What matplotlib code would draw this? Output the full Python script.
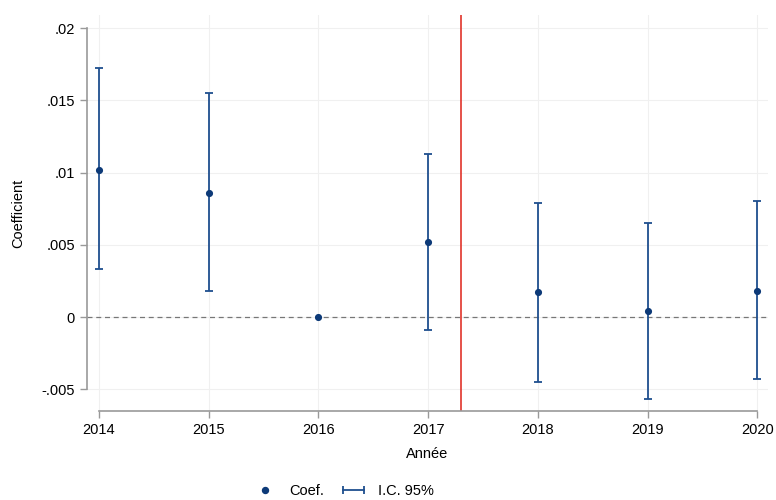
import matplotlib
matplotlib.use("Agg")
import matplotlib.pyplot as plt
from matplotlib.lines import Line2D
from matplotlib.legend_handler import HandlerLine2D

plt.rcParams["font.family"] = ["Liberation Sans", "DejaVu Sans"]

# values
years = [2014, 2015, 2016, 2017, 2018, 2019, 2020]
coef = [0.0102, 0.0086, 0.0, 0.0052, 0.0017, 0.0004, 0.0018]
ci_low = [0.0033, 0.0018, 0.0, -0.0009, -0.0045, -0.0057, -0.0043]
ci_high = [0.0172, 0.0155, 0.0, 0.0113, 0.0079, 0.0065, 0.0080]
treat_line = 2017.3
yticks = [-0.005, 0, 0.005, 0.01, 0.015, 0.02]
ytick_labels = ["-.005", "0", ".005", ".01", ".015", ".02"]

LINE_C = "#1f4f8f"
DOT_C = "#0d3a78"
FS = 10.5

fig = plt.figure(figsize=(7.76, 5), dpi=100)
ax = fig.add_axes([0.112, 0.178, 0.878, 0.792])

ax.set_xlim(2013.89, 2020.1)
ax.set_ylim(-0.0065, 0.0209)

for yv in yticks:
    ax.axhline(yv, color="#f0f0f0", linewidth=0.8, zorder=0)
for xv in years:
    ax.axvline(xv, color="#f0f0f0", linewidth=0.8, zorder=0)

ax.axhline(0, color="#777777", linestyle=(0, (4, 3)), linewidth=0.9, zorder=1)
ax.axvline(treat_line, color="#e0332a", linewidth=1.2, zorder=2)

# CI bars (skip the reference year with zero width)
for x, lo, hi in zip(years, ci_low, ci_high):
    if hi - lo <= 0:
        continue
    ax.errorbar([x], [(lo + hi) / 2], yerr=[[(hi - lo) / 2], [(hi - lo) / 2]],
                fmt="none", ecolor=LINE_C, elinewidth=1.3, capsize=2.9,
                capthick=1.3, zorder=3)
ax.scatter(years, coef, s=17, color=DOT_C, zorder=4)

ax.set_xticks(years)
ax.set_yticks(yticks)
ax.set_yticklabels(ytick_labels)
ax.tick_params(labelsize=FS, color="#999999", length=5, width=1)
for side in ["top", "right"]:
    ax.spines[side].set_visible(False)
ax.spines["left"].set_bounds(yticks[0], yticks[-1])
ax.spines["bottom"].set_bounds(years[0], years[-1])
for side in ["left", "bottom"]:
    ax.spines[side].set_color("#999999")
    ax.spines[side].set_linewidth(1.2)

ax.set_xlabel("Année", fontsize=FS, labelpad=7)
ax.set_ylabel("Coefficient", fontsize=FS, labelpad=12)

h_coef = Line2D([], [], linestyle="none", marker="o", markersize=4.3, color=DOT_C)
h_ci = Line2D([], [], color=LINE_C, linewidth=1.3, marker="|", markersize=6,
              markeredgewidth=1.3)
fig.legend([h_coef, h_ci], ["Coef.", "I.C. 95%"], loc="lower center",
           bbox_to_anchor=(342 / 776, -0.022), ncol=2, frameon=False, fontsize=FS,
           handlelength=2.0, columnspacing=1.0, handletextpad=0.7,
           handler_map={h_ci: HandlerLine2D(numpoints=2),
                        h_coef: HandlerLine2D(numpoints=1)})

fig.savefig("out.png", dpi=100)
